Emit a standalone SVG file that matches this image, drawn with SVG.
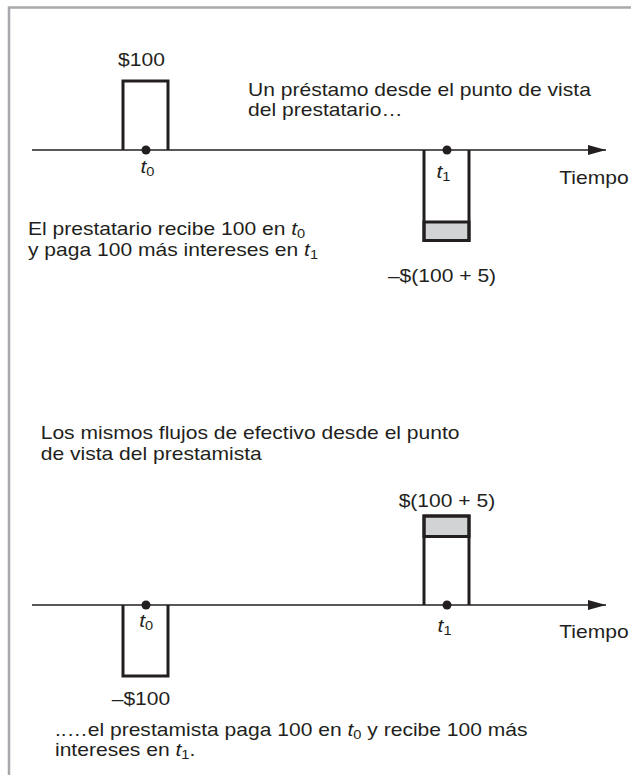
<svg xmlns="http://www.w3.org/2000/svg" width="631" height="775" viewBox="0 0 631 775">
<style>
.frame{fill:none;stroke:#a7a9ac;stroke-width:2.5}
.axis{stroke:#231f20;stroke-width:1.6;fill:none}
.bar{fill:none;stroke:#231f20;stroke-width:3;stroke-linejoin:miter}
.band{fill:#d1d3d4;stroke:#231f20;stroke-width:3}
.dot{fill:#231f20}
text{font-family:"Liberation Sans",Arial,Helvetica,sans-serif;font-size:18px;fill:#231f20}
.mid{text-anchor:middle}
.it{font-style:italic}
.sub{font-size:12.5px}
</style>
<defs>
<marker id="arrow" markerWidth="18" markerHeight="10" refX="18" refY="5" orient="auto" markerUnits="userSpaceOnUse">
<polygon points="0,0 18,5 0,10" fill="#231f20"/>
</marker>
</defs>
<polyline class="frame" points="9,775 9,7.5 631,7.5"/>
<g id="connectors">
<line class="axis" x1="32" y1="150" x2="606" y2="150" marker-end="url(#arrow)"/>
<line class="axis" x1="32" y1="605" x2="606" y2="605" marker-end="url(#arrow)"/>
</g>
<g id="top-inflow">
<path class="bar" d="M123,150 V81 H168 V150"/>
<circle class="dot" cx="146" cy="150" r="4.5"/>
</g>
<g id="top-outflow">
<rect class="band" x="424" y="222" width="45" height="18.5"/>
<path class="bar" d="M424,150 V240.5 H469 V150"/>
<circle class="dot" cx="447" cy="150" r="4.5"/>
</g>
<g id="bottom-outflow">
<path class="bar" d="M123,605 V676 H168 V605"/>
<circle class="dot" cx="146" cy="605" r="4.5"/>
</g>
<g id="bottom-inflow">
<rect class="band" x="424" y="516" width="45" height="20.5"/>
<path class="bar" d="M424,605 V516 H469 V605"/>
<circle class="dot" cx="447" cy="605" r="4.5"/>
</g>
<g id="labels" transform="scale(1.17 1)">
<text class="mid" x="120.9" y="66">$100</text>
<text class="mid" x="126" y="173"><tspan class="it">t</tspan><tspan class="sub" dy="3">0</tspan></text>
<text class="mid" x="379" y="178"><tspan class="it">t</tspan><tspan class="sub" dy="3">1</tspan></text>
<text x="212" y="96">Un préstamo desde el punto de vista</text>
<text x="212" y="116">del prestatario…</text>
<text x="478" y="184">Tiempo</text>
<text x="23.9" y="235">El prestatario recibe 100 en <tspan class="it">t</tspan><tspan class="sub" dy="3">0</tspan></text>
<text x="23.9" y="256">y paga 100 más intereses en <tspan class="it">t</tspan><tspan class="sub" dy="3">1</tspan></text>
<text class="mid" x="377.8" y="282">–$(100 + 5)</text>
<text x="34.8" y="439">Los mismos flujos de efectivo desde el punto</text>
<text x="34.8" y="460">de vista del prestamista</text>
<text class="mid" x="382" y="507">$(100 + 5)</text>
<text class="mid" x="125" y="627"><tspan class="it">t</tspan><tspan class="sub" dy="3">0</tspan></text>
<text class="mid" x="380" y="632"><tspan class="it">t</tspan><tspan class="sub" dy="3">1</tspan></text>
<text x="478" y="638">Tiempo</text>
<text class="mid" x="120.5" y="705">–$100</text>
<text x="47" y="736">..…el prestamista paga 100 en <tspan class="it">t</tspan><tspan class="sub" dy="3">0</tspan><tspan dy="-3"> y recibe 100 más</tspan></text>
<text x="47" y="756">intereses en <tspan class="it">t</tspan><tspan class="sub" dy="3">1</tspan><tspan dy="-3">.</tspan></text>
</g>
</svg>
